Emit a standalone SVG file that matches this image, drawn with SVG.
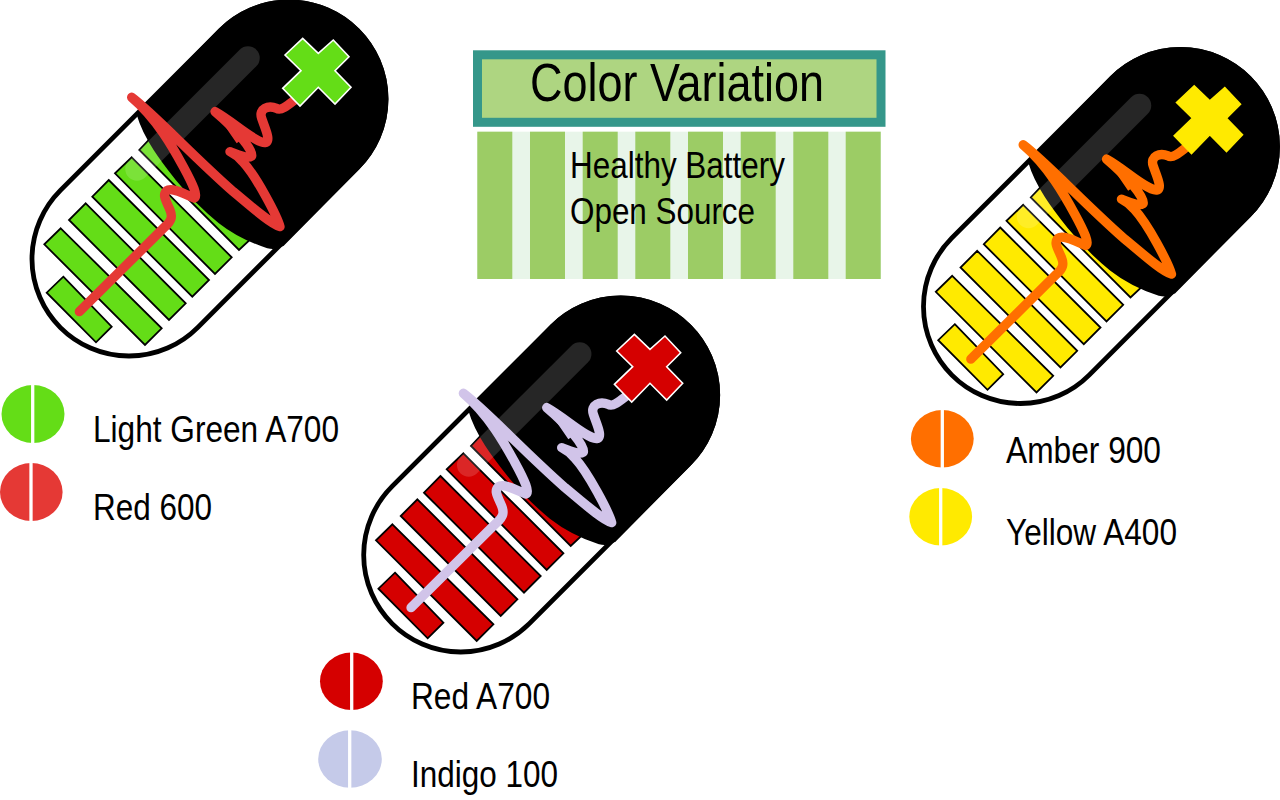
<svg xmlns="http://www.w3.org/2000/svg" width="1280" height="800" viewBox="0 0 1280 800">
<style>
.t{font-family:"Liberation Sans",Arial,sans-serif;fill:#000}
.l{font-size:36.500px}
.m{font-size:37px}
.bar{fill:var(--a);stroke:#000;stroke-width:1.8}
.wave{fill:none;stroke:var(--b);stroke-width:28;stroke-linecap:round;stroke-linejoin:round}
.fat{fill:var(--b);stroke:none}
.div{stroke:#fff;stroke-width:3.300}
</style>
<defs>
<g id="pill">
<path d="M220.400 30.400A97 97 0 0 1 357.600 167.600L197.600 327.600A97 97 0 0 1 60.400 190.400Z" fill="#fff" stroke="#000" stroke-width="4.800"/>
<polygon class="bar" points="63.300,276.700 111.700,326.700 96,342.300 46.700,292.700"/>
<polygon class="bar" points="60.700,228.300 161.700,328.300 145,345 44.300,244.300"/>
<polygon class="bar" points="85.700,203.300 185.700,303.300 169,320 69,220"/>
<polygon class="bar" points="108.700,180 209,280 192.300,296.700 92.300,196.700"/>
<polygon class="bar" points="131.700,157.300 231.700,257.300 215,274 115,173.300"/>
<polygon class="bar" points="155,133.300 255,235 239,250 139.300,150"/>
<path d="M139 114L220.400 30.400A97 97 0 0 1 357.600 167.600L282 244C277 247 272 247 268 246C250 240 234 232 220 221C205 209 192 196 178 179C163 160 146 138 139 114Z" fill="#000" stroke="#000" stroke-width="4.800"/>
<path d="M248 58L137 169" stroke="#fff" stroke-opacity=".15" stroke-width="23.500" stroke-linecap="round" fill="none"/>
<g transform="translate(20 0) scale(.33333)">
<path class="fat" d="M335 292L445 395L435 415ZM585 335L685 405L650 430Z"/>
<path class="wave" d="M178 935L435 680C455 662 458 650 450 630C440 605 425 585 440 572C455 562 490 580 522 594C535 590 520 555 490 500C460 445 410 355 335 292C400 340 520 470 640 575C700 625 750 670 780 680C772 650 710 530 668 485C655 470 640 460 630 455C650 462 680 478 695 468C700 450 650 390 585 335C640 365 700 425 735 428C755 425 735 385 725 355C715 325 745 315 770 325C780 332 790 330 860 270"/>
</g>
<polygon points="285,55 302.700,38.300 318.300,53.300 333.300,40 349,56.700 335,70.700 351,87.300 335,104 318.300,87.300 300,106 282.700,88.300 301,70.700" fill="var(--a)" stroke="var(--c)" stroke-width="1.600"/>
</g>
</defs>
<g id="title">
<rect x="477.500" y="54.800" width="403.500" height="67.500" fill="#aed581" stroke="#35978a" stroke-width="9"/>
<text class="t" x="530" y="101" font-size="53" textLength="294" lengthAdjust="spacingAndGlyphs">Color Variation</text>
</g>
<g id="stripes">
<rect x="477.300" y="131.700" width="403.700" height="147.300" fill="#e8f5e9"/>
<g fill="#9ccc65">
<rect x="477.300" y="131.700" width="35" height="147.300"/>
<rect x="530" y="131.700" width="35" height="147.300"/>
<rect x="582.700" y="131.700" width="35" height="147.300"/>
<rect x="635.300" y="131.700" width="35" height="147.300"/>
<rect x="688" y="131.700" width="35" height="147.300"/>
<rect x="740.700" y="131.700" width="35" height="147.300"/>
<rect x="793.300" y="131.700" width="35" height="147.300"/>
<rect x="845.700" y="131.700" width="35" height="147.300"/>
</g>
<text class="t m" x="570" y="177.700" textLength="215" lengthAdjust="spacingAndGlyphs">Healthy Battery</text>
<text class="t m" x="570" y="224" textLength="185" lengthAdjust="spacingAndGlyphs">Open Source</text>
</g>
<g id="pill-green"><use href="#pill" style="--a:#64dd17;--b:#e53935;--c:#fff"/></g>
<g id="pill-red"><use href="#pill" x="331.700" y="296" style="--a:#d50000;--b:#d1c4e9;--c:#fff"/></g>
<g id="pill-yellow"><use href="#pill" x="891.500" y="47.500" style="--a:#ffea00;--b:#ff6f00;--c:#ffea00"/></g>
<g id="legend-green">
<ellipse cx="33" cy="414" rx="31.500" ry="29" fill="#64dd17"/><line class="div" x1="32.700" y1="384" x2="32.700" y2="444"/>
<text class="t l" x="93" y="442" textLength="246" lengthAdjust="spacingAndGlyphs">Light Green A700</text>
</g>
<g id="legend-red600">
<ellipse cx="31.300" cy="492" rx="31.300" ry="29" fill="#e53935"/><line class="div" x1="31" y1="462" x2="31" y2="522"/>
<text class="t l" x="93" y="519.500" textLength="119" lengthAdjust="spacingAndGlyphs">Red 600</text>
</g>
<g id="legend-redA700">
<ellipse cx="351.400" cy="681.300" rx="31.400" ry="28.700" fill="#d50000"/><line class="div" x1="351.700" y1="651" x2="351.700" y2="711"/>
<text class="t l" x="411" y="709" textLength="139" lengthAdjust="spacingAndGlyphs">Red A700</text>
</g>
<g id="legend-indigo">
<ellipse cx="350" cy="759" rx="31.800" ry="28.700" fill="#c5cae9"/><line class="div" x1="349.700" y1="729" x2="349.700" y2="789"/>
<text class="t l" x="411" y="787.300" textLength="147" lengthAdjust="spacingAndGlyphs">Indigo 100</text>
</g>
<g id="legend-amber">
<ellipse cx="942.300" cy="438.700" rx="31.400" ry="28.700" fill="#ff6f00"/><line class="div" x1="942.300" y1="408" x2="942.300" y2="469"/>
<text class="t l" x="1006" y="463.300" textLength="155" lengthAdjust="spacingAndGlyphs">Amber 900</text>
</g>
<g id="legend-yellow">
<ellipse cx="940.700" cy="516.700" rx="31.400" ry="28.700" fill="#ffea00"/><line class="div" x1="940.700" y1="486" x2="940.700" y2="547"/>
<text class="t l" x="1006" y="544.500" textLength="171" lengthAdjust="spacingAndGlyphs">Yellow A400</text>
</g>
</svg>
